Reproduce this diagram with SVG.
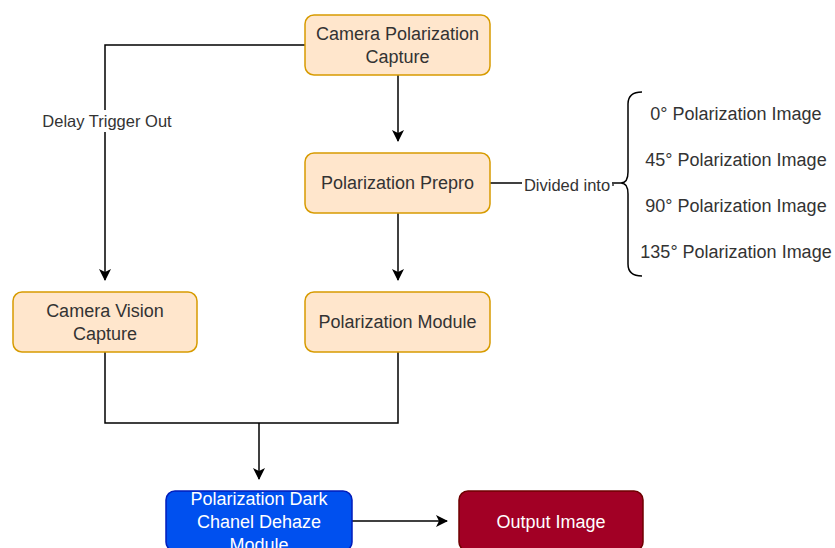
<svg xmlns="http://www.w3.org/2000/svg" width="835" height="548" viewBox="0 0 835 548">
<defs>
<style>
.n{fill:#ffe6cc;stroke:#d79b00;stroke-width:1.5}
.t{font-family:"Liberation Sans",Arial,sans-serif;font-size:18px;fill:#333333;text-anchor:middle}
.w{font-family:"Liberation Sans",Arial,sans-serif;font-size:18px;fill:#ffffff;text-anchor:middle}
.l{font-family:"Liberation Sans",Arial,sans-serif;font-size:16.5px;fill:#333333;text-anchor:middle}
.e{fill:none;stroke:#000000;stroke-width:1.5}
</style>
<marker id="a" viewBox="0 0 10 10" refX="9" refY="5" markerWidth="7" markerHeight="7" markerUnits="userSpaceOnUse" orient="auto">
<path d="M0,0 L10,5 L0,10 L2.5,5 Z" fill="#000"/>
</marker>
<marker id="b" viewBox="0 0 12 12" refX="11" refY="6" markerWidth="12" markerHeight="12" markerUnits="userSpaceOnUse" orient="auto">
<path d="M0,0 L12,6 L0,12 L3,6 Z" fill="#000"/>
</marker>
</defs>
<rect width="835" height="548" fill="#ffffff"/>
<g id="connectors">
<path class="e" d="M305,45 H105 V280" marker-end="url(#b)"/>
<rect x="38" y="110" width="138" height="22" fill="#fff"/>
<text class="l" x="107" y="127">Delay Trigger Out</text>
<path class="e" d="M398,75 V141" marker-end="url(#b)"/>
<path class="e" d="M398,213 V280" marker-end="url(#b)"/>
<path class="e" d="M105,352 V423 H398 V352"/>
<path class="e" d="M259,423 V479" marker-end="url(#b)"/>
<path class="e" d="M352,521 H447" marker-end="url(#b)"/>
<path class="e" d="M490,183 H621"/>
<rect x="522" y="174" width="90" height="20" fill="#fff"/>
<text class="l" x="567" y="191">Divided into</text>
<circle cx="613" cy="185" r="1" fill="#333"/>
</g>
<g id="brace">
<path class="e" d="M642,92 Q628,92 628,104 V172 Q628,183 621,183 Q628,183 628,194 V264 Q628,276 642,276"/>
<text class="t" x="736" y="120">0° Polarization Image</text>
<text class="t" x="736" y="166">45° Polarization Image</text>
<text class="t" x="736" y="212">90° Polarization Image</text>
<text class="t" x="736" y="258">135° Polarization Image</text>
</g>
<g id="camera-polarization-capture">
<rect class="n" x="305" y="15" width="185" height="60" rx="9"/>
<text class="t" x="397.5" y="40">Camera Polarization</text>
<text class="t" x="397.5" y="63">Capture</text>
</g>
<g id="polarization-prepro">
<rect class="n" x="305" y="153" width="185" height="60" rx="9"/>
<text class="t" x="397.5" y="189">Polarization Prepro</text>
</g>
<g id="polarization-module">
<rect class="n" x="305" y="292" width="185" height="60" rx="9"/>
<text class="t" x="397.5" y="328">Polarization Module</text>
</g>
<g id="camera-vision-capture">
<rect class="n" x="13" y="292" width="184" height="60" rx="9"/>
<text class="t" x="105" y="317">Camera Vision</text>
<text class="t" x="105" y="340">Capture</text>
</g>
<g id="dehaze-module">
<rect x="166" y="491" width="186" height="60" rx="9" fill="#0050ef" stroke="#001dbc" stroke-width="1.5"/>
<text class="w" x="259" y="505">Polarization Dark</text>
<text class="w" x="259" y="528">Chanel Dehaze</text>
<text class="w" x="259" y="551">Module</text>
</g>
<g id="output-image">
<rect x="459" y="491" width="184" height="60" rx="9" fill="#a20025" stroke="#6f0000" stroke-width="1.5"/>
<text class="w" x="551" y="528">Output Image</text>
</g>
</svg>
